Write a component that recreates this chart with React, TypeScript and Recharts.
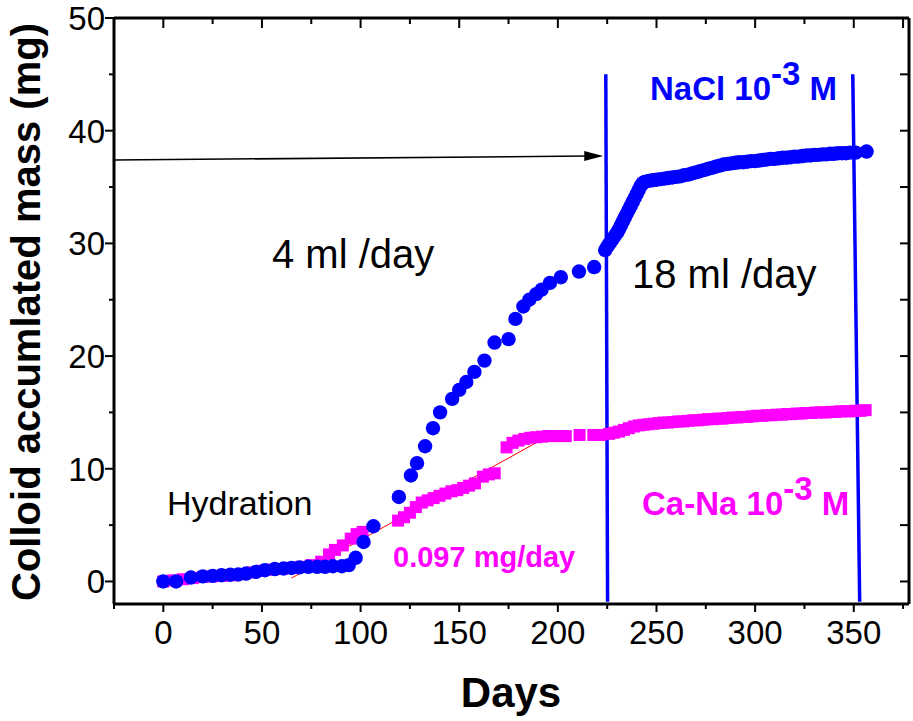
import React from 'react';
import { ScatterChart, Scatter, XAxis, YAxis, ReferenceLine } from 'recharts';

const FONT = '"Liberation Sans", Arial, Helvetica, sans-serif';
const BLUE = '#0000ff';
const PINK = '#ff00ff';

// axis ticks
const xTicks = [-25, 0, 25, 50, 75, 100, 125, 150, 175, 200, 225, 250, 275, 300, 325, 350, 375];
const xLabels = [0, 50, 100, 150, 200, 250, 300, 350];
const yTicks = [0, 5, 10, 15, 20, 25, 30, 35, 40, 45, 50];
const yLabels = [0, 10, 20, 30, 40, 50];

// NaCl 10-3 M (blue circles)
const naclDays = [
  0, 6.5, 14, 20, 25, 29.5, 34, 38, 42, 47, 51.5, 56.5, 61, 65, 69, 73.5, 78, 82, 86, 90.5, 94,
  97.5, 101.5, 106.5, 119.4, 125.5, 128.6, 132.7, 136.7, 140.3, 146.4, 150, 153.6, 157.7, 162.8,
  167.9, 175, 178.5, 182.5, 185.5, 189, 191.8, 196, 201.5, 210.7, 218.4, 224,
  225, 226, 227, 228, 229, 230, 231, 232, 233, 234, 235, 236, 237, 238, 239, 240, 241, 242, 243, 244,
  246, 248, 250, 252, 254, 256, 258, 260,
  262, 264, 266, 268, 270, 272, 274, 276, 278, 280, 282, 284, 286, 288, 290, 292, 294, 296,
  298, 300, 302, 304, 306, 308, 310, 312, 314, 316, 318, 320, 322, 324, 326, 328, 330, 332,
  334, 336, 338, 340, 342, 344, 346, 348, 351, 356.5,
];
const naclMass = [
  0, 0, 0.35, 0.45, 0.5, 0.55, 0.6, 0.62, 0.7, 0.85, 1.0, 1.1, 1.15, 1.2, 1.25, 1.3, 1.3, 1.3, 1.35, 1.35, 1.45,
  2.1, 3.5, 4.9, 7.5, 9.4, 10.5, 12.0, 13.6, 15.0, 16.2, 17.0, 17.7, 18.6, 19.6,
  21.2, 21.5, 23.3, 24.4, 25.0, 25.5, 25.9, 26.5, 27.0, 27.5, 27.9, 29.4,
  29.7, 29.95, 30.2, 30.45, 30.7, 30.95, 31.25, 31.6, 31.95, 32.3, 32.65, 33.0, 33.35, 33.7, 34.05, 34.4, 34.75, 35.1, 35.35, 35.45,
  35.55, 35.6, 35.65, 35.7, 35.75, 35.8, 35.85, 35.9,
  35.95, 36.05, 36.1, 36.2, 36.3, 36.4, 36.5, 36.6, 36.7, 36.8, 36.9, 37.0, 37.05, 37.1, 37.15, 37.2, 37.2, 37.25,
  37.3, 37.3, 37.35, 37.4, 37.45, 37.5, 37.5, 37.55, 37.6, 37.6, 37.65, 37.7, 37.7, 37.75, 37.8, 37.8, 37.85, 37.85,
  37.9, 37.9, 37.95, 37.95, 38.0, 38.0, 38.0, 38.05, 38.05, 38.15,
];

// Ca-Na 10-3 M (magenta squares)
const canaDays = [
  0, 5, 10, 15, 20, 25, 30, 35, 40, 45, 50, 55, 60, 65, 70, 75, 80, 84, 87, 91, 95, 98, 101,
  119, 122, 125, 128, 131, 134, 137, 140, 143, 146, 149, 152, 155, 158, 162, 165, 168,
  174, 177, 180, 183, 186, 189, 192, 195, 198, 201, 204, 211, 218, 221.5,
  226, 228.5, 231, 233.5, 236, 238.5, 241, 243.5, 246, 248.5, 251, 253.5, 256, 258.5, 261, 263.5,
  266, 268.5, 271, 273.5, 276, 278.5, 281, 283.5, 286, 288.5, 291, 293.5, 296, 298.5, 301, 303.5,
  306, 308.5, 311, 313.5, 316, 318.5, 321, 323.5, 326, 328.5, 331, 333.5, 336, 338.5, 341, 343.5,
  346, 348.5, 351, 353.5, 356,
];
const canaMass = [
  0, 0.1, 0.2, 0.3, 0.4, 0.45, 0.5, 0.55, 0.65, 0.8, 0.95, 1.05, 1.1, 1.2, 1.3, 1.45, 1.75, 2.4, 2.8, 3.2, 3.8, 4.2, 4.4,
  5.4, 5.7, 6.1, 6.6, 7.0, 7.2, 7.4, 7.6, 7.8, 8.0, 8.1, 8.3, 8.5, 8.7, 9.3, 9.5, 9.6,
  11.9, 12.3, 12.5, 12.65, 12.75, 12.8, 12.85, 12.9, 12.9, 12.9, 12.9, 13.0, 13.0, 13.0,
  13.1, 13.2, 13.3, 13.45, 13.6, 13.75, 13.85, 13.9, 13.95, 14.0, 14.05, 14.1, 14.1, 14.15, 14.2, 14.2,
  14.25, 14.3, 14.3, 14.35, 14.4, 14.4, 14.45, 14.45, 14.5, 14.55, 14.55, 14.6, 14.6, 14.65, 14.7, 14.7,
  14.75, 14.75, 14.8, 14.8, 14.85, 14.85, 14.9, 14.9, 14.95, 14.95, 15.0, 15.0, 15.0, 15.05, 15.05, 15.1,
  15.1, 15.1, 15.15, 15.15, 15.2,
];

// linear fit (0.097 mg/day) end points, flow change and salt change days
const fitLine = [{ x: 65, y: 0.3 }, { x: 192, y: 12.6 }];
const flowChange = [{ x: 224.3, y: 45 }, { x: 225.2, y: -1.8 }];
const saltChange = [{ x: 349.5, y: 45 }, { x: 353, y: -1.8 }];
const arrowPts = [{ x: -25, y: 37.4 }, { x: 223, y: 37.75 }];

const nacl = naclDays.map((d, i) => ({ day: d, mass: naclMass[i] }));
const cana = canaDays.map((d, i) => ({ day: d, mass: canaMass[i] }));

const tickText = { fontFamily: FONT, fontSize: 33, fill: '#000' };

function BottomTick({ x, y, payload }: any) {
  const major = xLabels.includes(payload.value);
  return (
    <g>
      <line x1={x} x2={x} y1={y} y2={y + (major ? 8 : 5)} stroke="#000" strokeWidth={2} />
      {major && (
        <text x={x} y={y + 40} textAnchor="middle" {...tickText}>
          {payload.value}
        </text>
      )}
    </g>
  );
}

function TopTick({ x, y, payload }: any) {
  const major = xLabels.includes(payload.value) || payload.value === 375;
  return <line x1={x} x2={x} y1={y} y2={y + (major ? 10 : 6)} stroke="#000" strokeWidth={2} />;
}

function LeftTick({ x, y, payload }: any) {
  const major = yLabels.includes(payload.value);
  return (
    <g>
      <line x1={x} x2={x - (major ? 9 : 5)} y1={y} y2={y} stroke="#000" strokeWidth={2} />
      {major && (
        <text x={x - 9} y={y + 12} textAnchor="end" {...tickText}>
          {payload.value}
        </text>
      )}
    </g>
  );
}

function RightTick({ x, y }: any) {
  return <line x1={x} x2={x - 9} y1={y} y2={y} stroke="#000" strokeWidth={2} />;
}

const Circle = (p: any) => <circle cx={p.cx} cy={p.cy} r={7.2} fill={BLUE} />;
const Square = (p: any) => <rect x={p.cx - 6} y={p.cy - 6} width={12} height={12} fill={PINK} />;

const Arrow = (p: any) => {
  const { x1, y1, x2, y2 } = p;
  return (
    <g>
      <line x1={x1} y1={y1} x2={x2 - 16} y2={y2} stroke="#000" strokeWidth={1.6} />
      <polygon points={`${x2},${y2} ${x2 - 19},${y2 - 5} ${x2 - 19},${y2 + 5}`} fill="#000" />
    </g>
  );
};

const VLine = (p: any) => (
  <line x1={p.x1} y1={p.y1} x2={p.x2} y2={p.y2} stroke={BLUE} strokeWidth={3.5} />
);

const axisLine = { stroke: '#000', strokeWidth: 3 };

export default function App() {
  return (
    <div style={{ position: 'absolute', left: 0, top: 0, width: 913, height: 721, background: '#fff' }}>
      <ScatterChart width={913} height={721} margin={{ top: 18, right: 4, bottom: 0, left: 0 }}>
        <XAxis
          xAxisId="b"
          type="number"
          dataKey="day"
          domain={[-25, 378]}
          ticks={xTicks}
          interval={0}
          height={117}
          tickSize={0}
          tickMargin={0}
          tickLine={false}
          axisLine={axisLine}
          tick={(p: any) => <BottomTick {...p} />}
          allowDataOverflow
        />
        <XAxis
          xAxisId="t"
          orientation="top"
          mirror
          type="number"
          dataKey="day"
          domain={[-25, 378]}
          ticks={xTicks}
          interval={0}
          tickSize={0}
          tickMargin={0}
          tickLine={false}
          axisLine={axisLine}
          tick={(p: any) => <TopTick {...p} />}
          allowDataOverflow
        />
        <YAxis
          yAxisId="l"
          type="number"
          dataKey="mass"
          domain={[-2, 50]}
          ticks={yTicks}
          interval={0}
          width={114}
          tickSize={0}
          tickMargin={0}
          tickLine={false}
          axisLine={axisLine}
          tick={(p: any) => <LeftTick {...p} />}
          allowDataOverflow
        />
        <YAxis
          yAxisId="r"
          orientation="right"
          mirror
          type="number"
          dataKey="mass"
          domain={[-2, 50]}
          ticks={yTicks}
          interval={0}
          tickSize={0}
          tickMargin={0}
          tickLine={false}
          axisLine={axisLine}
          tick={(p: any) => <RightTick {...p} />}
          allowDataOverflow
        />
        <Scatter xAxisId="b" yAxisId="l" data={cana} shape={Square} isAnimationActive={false} />
        <Scatter xAxisId="b" yAxisId="l" data={nacl} shape={Circle} isAnimationActive={false} />
        <ReferenceLine xAxisId="b" yAxisId="l" segment={fitLine} stroke="#ff0000" strokeWidth={1} />
        <ReferenceLine xAxisId="b" yAxisId="l" segment={flowChange} shape={VLine} />
        <ReferenceLine xAxisId="b" yAxisId="l" segment={saltChange} shape={VLine} />
        <ReferenceLine xAxisId="b" yAxisId="l" segment={arrowPts} shape={Arrow} />

        <text x={272} y={268} fontFamily={FONT} fontSize={40} fill="#000">4 ml /day</text>
        <text x={632} y={288} fontFamily={FONT} fontSize={40} fill="#000">18 ml /day</text>
        <text x={167} y={515} fontFamily={FONT} fontSize={34} fill="#000">Hydration</text>
        <text x={650} y={100} fontFamily={FONT} fontSize={33} fontWeight="bold" fill={BLUE}>
          NaCl 10<tspan dy={-15}>-3</tspan><tspan dy={15}> M</tspan>
        </text>
        <text x={642} y={515} fontFamily={FONT} fontSize={33} fontWeight="bold" fill={PINK}>
          Ca-Na 10<tspan dy={-15}>-3</tspan><tspan dy={15}> M</tspan>
        </text>
        <text x={393} y={567} fontFamily={FONT} fontSize={29} fontWeight="bold" fill={PINK}>0.097 mg/day</text>
        <text x={511} y={707} textAnchor="middle" fontFamily={FONT} fontSize={42} fontWeight="bold" fill="#000">Days</text>
        <text
          transform="translate(40,312) rotate(-90)"
          textAnchor="middle"
          fontFamily={FONT}
          fontSize={40}
          fontWeight="bold"
          fill="#000"
        >
          Colloid accumlated mass (mg)
        </text>
      </ScatterChart>
    </div>
  );
}
